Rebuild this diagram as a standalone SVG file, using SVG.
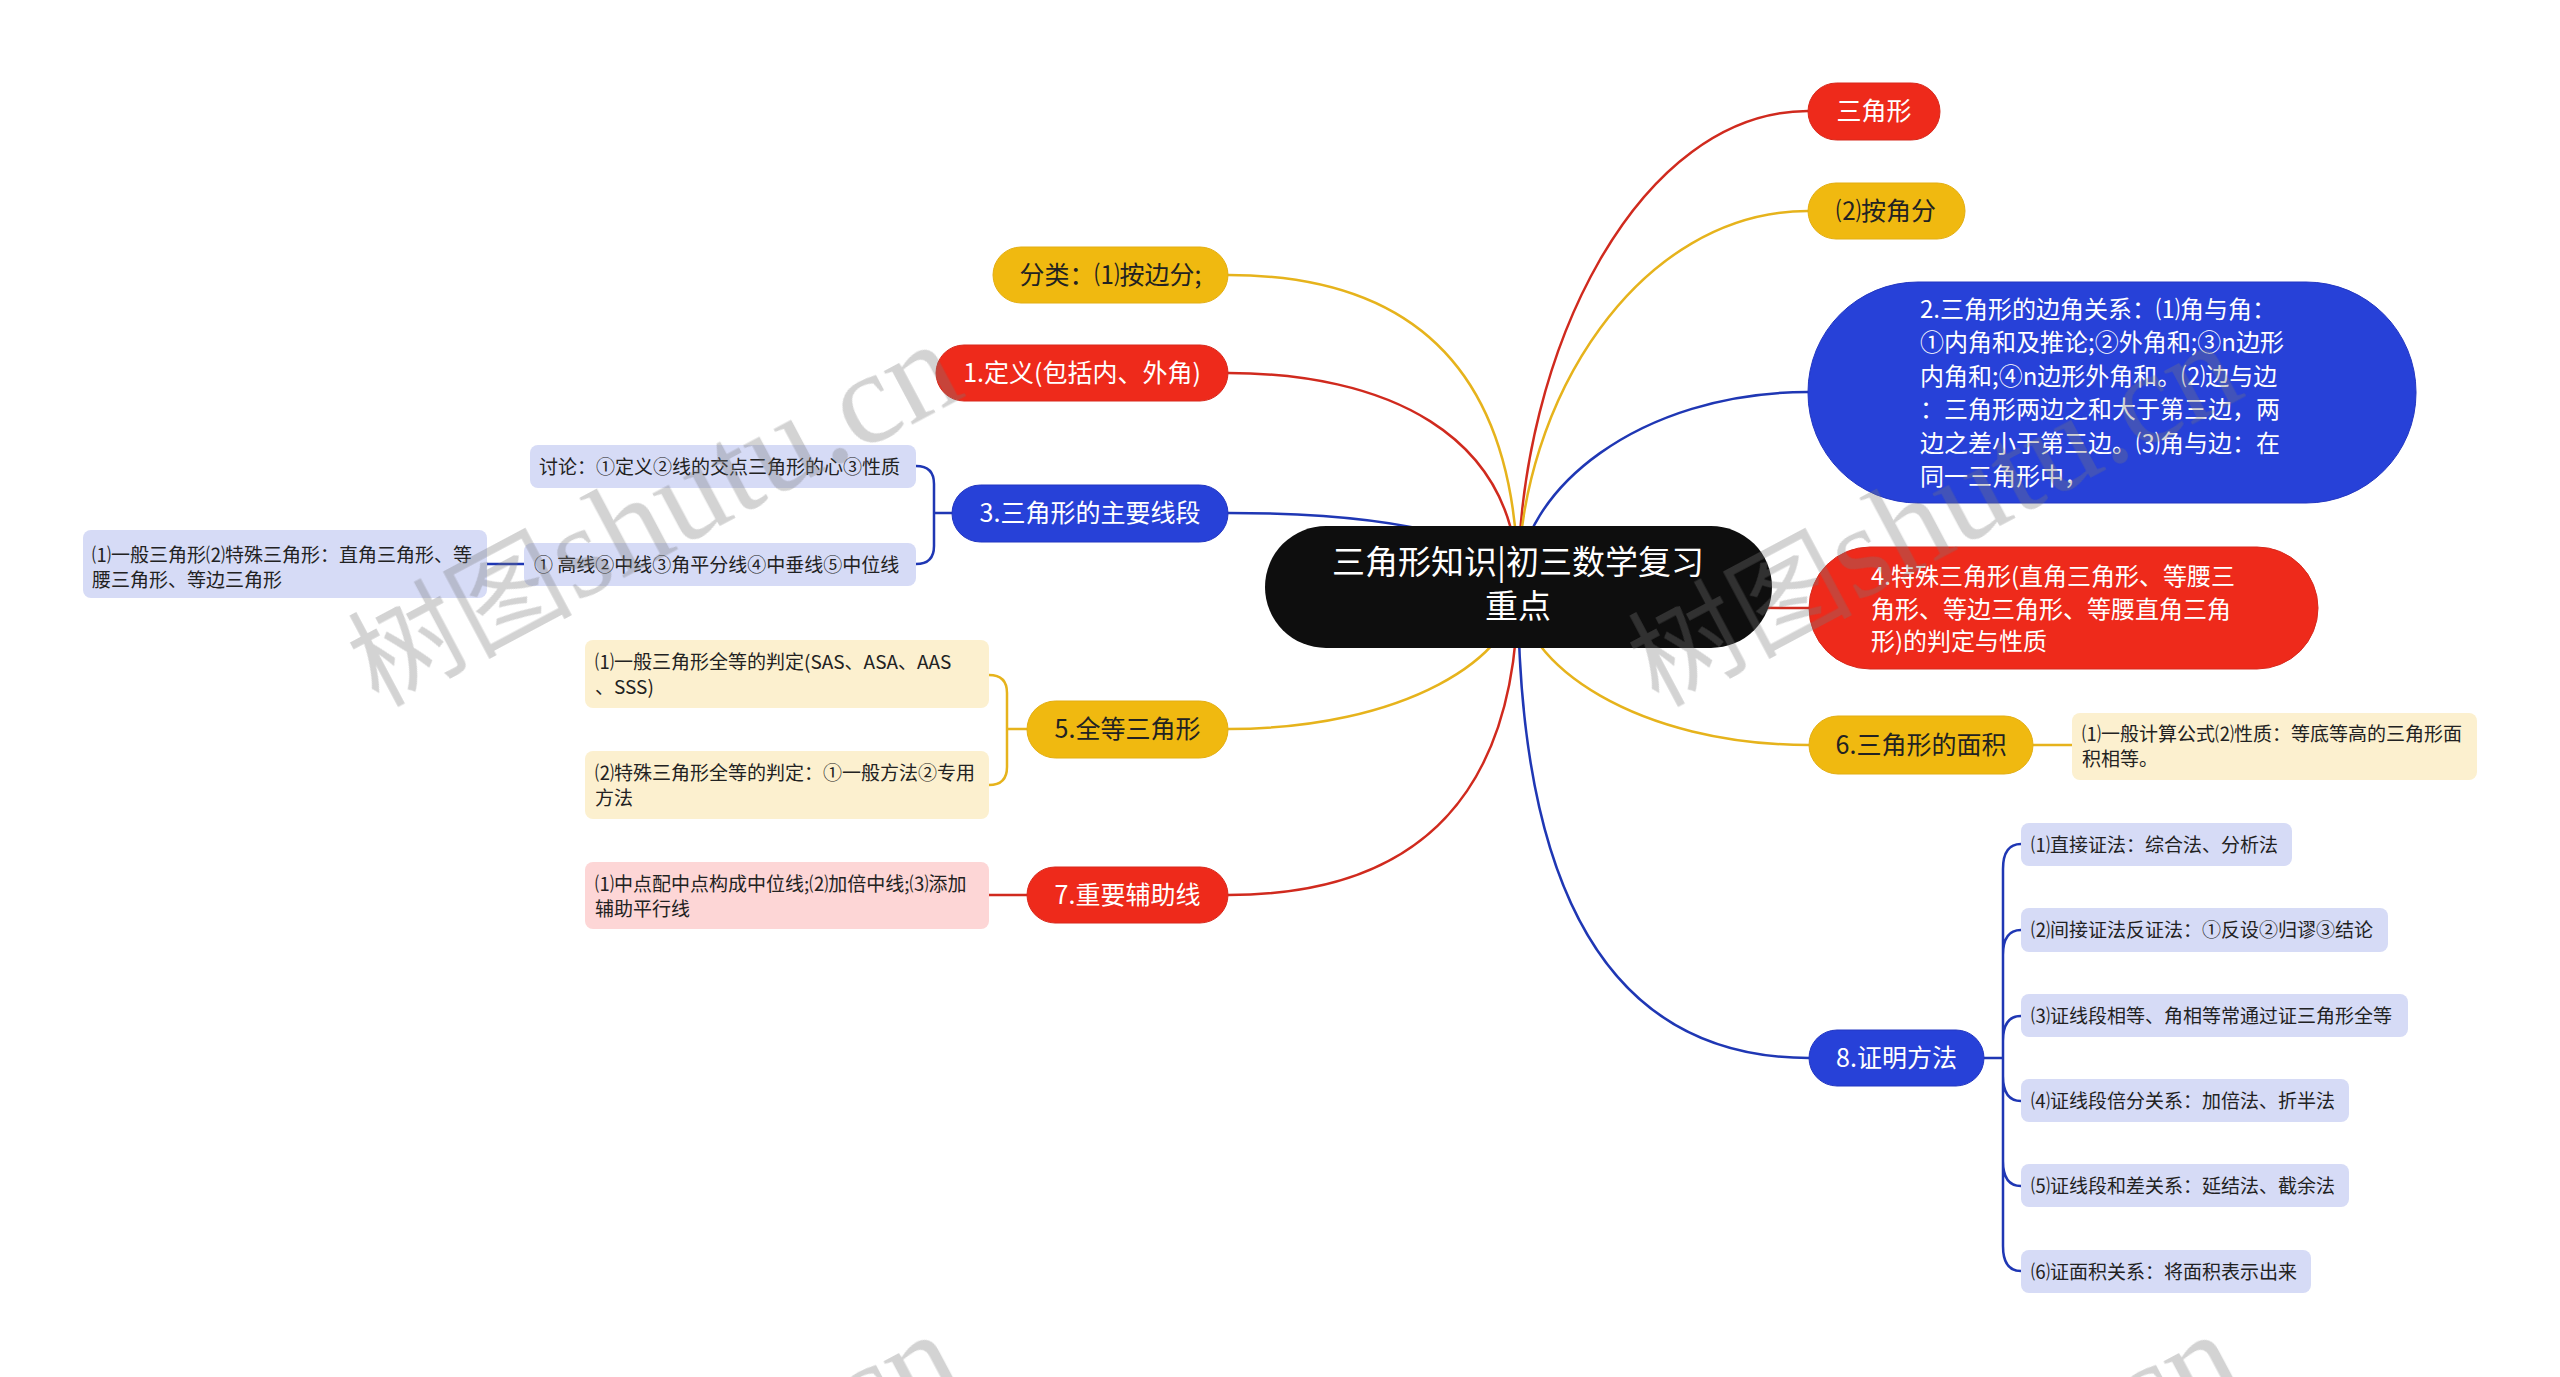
<svg xmlns="http://www.w3.org/2000/svg" width="2560" height="1377" viewBox="0 0 2560 1377">
<style>
text { font-family: "Noto Sans CJK SC", "Liberation Sans", sans-serif; dominant-baseline: central; }
.w { fill: #ffffff; }
.d { fill: #222222; }
.s33 { font-size: 33px; }
.s25 { font-size: 25px; }
.s24 { font-size: 24px; }
.s19 { font-size: 19px; }
.mid { text-anchor: middle; }
.red { fill: #ee2a1b; stroke: #d8291c; stroke-width: 1; }
.yel { fill: #f0b910; stroke: #e3ae12; stroke-width: 1; }
.blu { fill: #2741d8; stroke: #2236c2; stroke-width: 1; }
.lyel { fill: #fcf0cf; }
.lblu { fill: #d6dbf6; }
.lpnk { fill: #fdd6d6; }
.cr { fill: none; stroke: #d02a1e; stroke-width: 2.5; }
.cy { fill: none; stroke: #e6b31c; stroke-width: 2.5; }
.cb { fill: none; stroke: #1f37b4; stroke-width: 2.5; }
.wm { fill: #7a7a7a; opacity: 0.33; }
.wm text { dominant-baseline: alphabetic; }
.wc { font-family: "Noto Sans CJK SC", sans-serif; font-size: 112px; }
.wl { font-family: "Liberation Serif", serif; font-size: 132px; }
</style>
<rect width="2560" height="1377" fill="#ffffff"/>

<g id="connectors">
  <path class="cr" d="M 1518 587 C 1518 349, 1640 111, 1808 111"/>
  <path class="cy" d="M 1518 587 C 1518 399, 1640 211, 1808 211"/>
  <path class="cb" d="M 1518 587 C 1518 490, 1640 392, 1808 392"/>
  <path class="cr" d="M 1518 587 C 1518 597, 1640 608, 1809 608"/>
  <path class="cy" d="M 1518 587 C 1518 666, 1640 745, 1809 745"/>
  <path class="cb" d="M 1518 587 C 1518 901, 1615 1058, 1809 1058"/>
  <path class="cy" d="M 1518 587 C 1518 379, 1421 275, 1228 275"/>
  <path class="cr" d="M 1518 587 C 1518 430, 1380 373, 1228 373"/>
  <path class="cb" d="M 1518 587 C 1518 550, 1430 513, 1228 513"/>
  <path class="cy" d="M 1518 587 C 1518 658, 1403 729, 1228 729"/>
  <path class="cr" d="M 1518 587 C 1518 792, 1421 895, 1228 895"/>
  <path class="cb" d="M 952 513 L 934 513 M 934 513 L 934 484 Q 934 466 916 466 M 934 513 L 934 546 Q 934 564 916 564"/>
  <path class="cb" d="M 524 564 L 487 564"/>
  <path class="cy" d="M 1027 729 L 1007 729 M 1007 729 L 1007 693 Q 1007 675 989 675 M 1007 729 L 1007 767 Q 1007 785 989 785"/>
  <path class="cr" d="M 1027 895 L 989 895"/>
  <path class="cy" d="M 2033 745 L 2072 745"/>
  <path class="cb" d="M 1984 1058 L 2003 1058
    M 2003 1058 L 2003 869 Q 2003 844 2021 844
    M 2003 1058 L 2003 955 Q 2003 930 2021 930
    M 2003 1058 L 2003 1041 Q 2003 1016 2021 1016
    M 2003 1058 L 2003 1076 Q 2003 1101 2021 1101
    M 2003 1058 L 2003 1161 Q 2003 1186 2021 1186
    M 2003 1058 L 2003 1246 Q 2003 1271 2021 1271"/>
</g>

<g id="root">
  <rect x="1265" y="526" width="507" height="122" rx="61" fill="#0e0e0e"/>
  <text class="w s33 mid" x="1518" y="560">三角形知识|初三数学复习</text>
  <text class="w s33 mid" x="1518" y="604">重点</text>
</g>

<g id="n-sanjiaoxing">
  <rect class="red" x="1808" y="83" width="132" height="57" rx="28.5"/>
  <text class="w s25 mid" x="1874" y="109">三角形</text>
</g>
<g id="n-anjiaofen">
  <rect class="yel" x="1808" y="183" width="157" height="56" rx="28"/>
  <text class="d s25 mid" x="1886" y="209">⑵按角分</text>
</g>
<g id="n-2">
  <rect class="blu" x="1808" y="282" width="608" height="221" rx="110"/>
  <text class="w s24" x="1920" y="307">2.三角形的边角关系：⑴角与角：</text>
  <text class="w s24" x="1920" y="340.5">①内角和及推论;②外角和;③n边形</text>
  <text class="w s24" x="1920" y="374">内角和;④n边形外角和。⑵边与边</text>
  <text class="w s24" x="1920" y="407.5">：三角形两边之和大于第三边，两</text>
  <text class="w s24" x="1920" y="441">边之差小于第三边。⑶角与边：在</text>
  <text class="w s24" x="1920" y="474.5">同一三角形中，</text>
</g>
<g id="n-4">
  <rect class="red" x="1809" y="547" width="509" height="122" rx="61"/>
  <text class="w s24" x="1871" y="574">4.特殊三角形(直角三角形、等腰三</text>
  <text class="w s24" x="1871" y="607">角形、等边三角形、等腰直角三角</text>
  <text class="w s24" x="1871" y="639">形)的判定与性质</text>
</g>
<g id="n-6">
  <rect class="yel" x="1809" y="716" width="224" height="58" rx="29"/>
  <text class="d s25 mid" x="1921" y="743">6.三角形的面积</text>
</g>
<g id="n-6-1">
  <rect class="lyel" x="2072" y="713" width="405" height="67" rx="8"/>
  <text class="d s19" x="2082" y="732.5">⑴一般计算公式⑵性质：等底等高的三角形面</text>
  <text class="d s19" x="2082" y="757.5">积相等。</text>
</g>
<g id="n-8">
  <rect class="blu" x="1809" y="1030" width="175" height="56" rx="28"/>
  <text class="w s25 mid" x="1896.5" y="1056">8.证明方法</text>
</g>
<g id="n-8-1">
  <rect class="lblu" x="2021" y="823" width="271" height="43" rx="8"/>
  <text class="d s19" x="2031" y="843">⑴直接证法：综合法、分析法</text>
</g>
<g id="n-8-2">
  <rect class="lblu" x="2021" y="908" width="367" height="44" rx="8"/>
  <text class="d s19" x="2031" y="928.5">⑵间接证法反证法：①反设②归谬③结论</text>
</g>
<g id="n-8-3">
  <rect class="lblu" x="2021" y="994" width="387" height="43" rx="8"/>
  <text class="d s19" x="2031" y="1014">⑶证线段相等、角相等常通过证三角形全等</text>
</g>
<g id="n-8-4">
  <rect class="lblu" x="2021" y="1079" width="328" height="43" rx="8"/>
  <text class="d s19" x="2031" y="1099">⑷证线段倍分关系：加倍法、折半法</text>
</g>
<g id="n-8-5">
  <rect class="lblu" x="2021" y="1164" width="328" height="43" rx="8"/>
  <text class="d s19" x="2031" y="1184">⑸证线段和差关系：延结法、截余法</text>
</g>
<g id="n-8-6">
  <rect class="lblu" x="2021" y="1250" width="290" height="43" rx="8"/>
  <text class="d s19" x="2031" y="1270">⑹证面积关系：将面积表示出来</text>
</g>

<g id="n-fenlei">
  <rect class="yel" x="993" y="247" width="235" height="56" rx="28"/>
  <text class="d s25 mid" x="1110.5" y="273">分类：⑴按边分;</text>
</g>
<g id="n-1">
  <rect class="red" x="936" y="345" width="292" height="56" rx="28"/>
  <text class="w s25 mid" x="1082" y="371">1.定义(包括内、外角)</text>
</g>
<g id="n-3">
  <rect class="blu" x="952" y="485" width="276" height="57" rx="28.5"/>
  <text class="w s25 mid" x="1090" y="511">3.三角形的主要线段</text>
</g>
<g id="n-3-1">
  <rect class="lblu" x="530" y="445" width="386" height="43" rx="8"/>
  <text class="d s19" x="539" y="465">讨论：①定义②线的交点三角形的心③性质</text>
</g>
<g id="n-3-2">
  <rect class="lblu" x="524" y="543" width="392" height="43" rx="8"/>
  <text class="d s19" x="534" y="563">① 高线②中线③角平分线④中垂线⑤中位线</text>
</g>
<g id="n-3-2-1">
  <rect class="lblu" x="83" y="530" width="404" height="68" rx="8"/>
  <text class="d s19" x="92" y="553.5">⑴一般三角形⑵特殊三角形：直角三角形、等</text>
  <text class="d s19" x="92" y="578.5">腰三角形、等边三角形</text>
</g>
<g id="n-5">
  <rect class="yel" x="1027" y="701" width="201" height="57" rx="28.5"/>
  <text class="d s25 mid" x="1127.5" y="727">5.全等三角形</text>
</g>
<g id="n-5-1">
  <rect class="lyel" x="585" y="640" width="404" height="68" rx="8"/>
  <text class="d s19" x="595" y="660.5">⑴一般三角形全等的判定(SAS、ASA、AAS</text>
  <text class="d s19" x="595" y="685.5">、SSS)</text>
</g>
<g id="n-5-2">
  <rect class="lyel" x="585" y="751" width="404" height="68" rx="8"/>
  <text class="d s19" x="595" y="771.5">⑵特殊三角形全等的判定：①一般方法②专用</text>
  <text class="d s19" x="595" y="796.5">方法</text>
</g>
<g id="n-7">
  <rect class="red" x="1027" y="867" width="201" height="56" rx="28"/>
  <text class="w s25 mid" x="1127.5" y="893">7.重要辅助线</text>
</g>
<g id="n-7-1">
  <rect class="lpnk" x="585" y="862" width="404" height="67" rx="8"/>
  <text class="d s19" x="595" y="882">⑴中点配中点构成中位线;⑵加倍中线;⑶添加</text>
  <text class="d s19" x="595" y="907">辅助平行线</text>
</g>

<g id="watermark" class="wm">
  <text transform="translate(378 708) rotate(-28)"><tspan class="wc">树图</tspan><tspan class="wl">shutu.cn</tspan></text>
  <text transform="translate(1658 708) rotate(-28)"><tspan class="wc">树图</tspan><tspan class="wl">shutu.cn</tspan></text>
  <text class="wl" transform="translate(378 1698) rotate(-28) translate(510 0)">.cn</text>
  <text class="wl" transform="translate(1658 1698) rotate(-28) translate(510 0)">.cn</text>
</g>
</svg>
